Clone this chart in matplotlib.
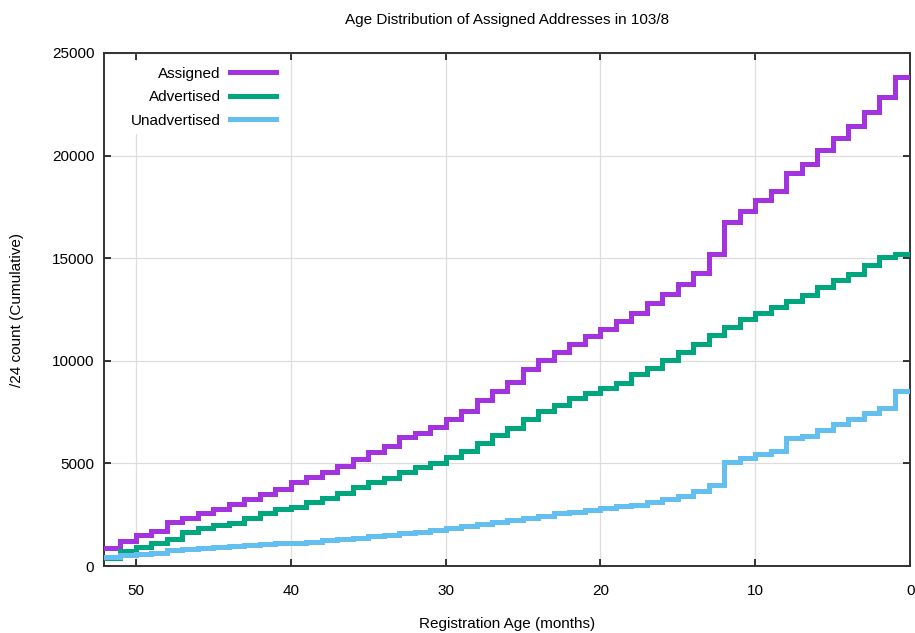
import matplotlib
matplotlib.use("Agg")
import matplotlib.pyplot as plt

plt.rcParams['font.family'] = ['Liberation Sans', 'DejaVu Sans']

# registration age in months, oldest first (x axis runs 52 -> 0)
months = list(range(52, -1, -1))

# cumulative /24 counts, one value per month interval [52,51] ... [1,0]
assigned = [862, 1218, 1510, 1721, 2128, 2323, 2567, 2778, 3030, 3265,
            3509, 3752, 4077, 4320, 4564, 4856, 5214, 5540, 5864, 6270,
            6497, 6757, 7163, 7569, 8089, 8543, 8981, 9585, 10023, 10413,
            10803, 11193, 11549, 11939, 12350, 12800, 13239, 13742, 14261, 15189,
            16749, 17315, 17835, 18274, 19136, 19589, 20272, 20873, 21441, 22110,
            22841, 23815]
advertised = [373, 731, 909, 1137, 1316, 1640, 1835, 1990, 2079, 2355,
              2567, 2762, 2892, 3119, 3297, 3557, 3834, 4090, 4272, 4580,
              4809, 5035, 5295, 5620, 6010, 6398, 6720, 7163, 7553, 7846,
              8171, 8446, 8657, 8933, 9350, 9664, 10038, 10445, 10818, 11257,
              11662, 12036, 12344, 12637, 12914, 13206, 13612, 13937, 14214, 14668,
              15074, 15205]
unadvertised = [422, 520, 585, 650, 780, 845, 893, 942, 985, 1007,
                1056, 1104, 1137, 1185, 1250, 1315, 1380, 1445, 1494, 1591,
                1672, 1754, 1835, 1949, 2047, 2160, 2220, 2323, 2453, 2567,
                2648, 2729, 2810, 2924, 2980, 3135, 3265, 3428, 3672, 3947,
                5052, 5246, 5458, 5620, 6222, 6352, 6628, 6905, 7163, 7440,
                7716, 8528]

series = [("Assigned", assigned, "#a333de"),
          ("Advertised", advertised, "#00a67e"),
          ("Unadvertised", unadvertised, "#63bff0")]

fig = plt.figure(figsize=(9.15, 6.33), dpi=100)
ax = fig.add_axes([0.1137, 0.1058, 0.881, 0.8105])

for name, vals, col in series:
    ax.step(months, vals + [vals[-1]], where='post', color=col, lw=3.6,
            label=name, solid_joinstyle='miter', zorder=3)

ax.set_xlim(52.05, 0)
ax.set_ylim(0, 25000)
ax.set_xticks([50, 40, 30, 20, 10, 0])
ax.set_yticks([0, 5000, 10000, 15000, 20000, 25000])
ax.grid(True, color='#dddddd', lw=0.9, zorder=0)
ax.tick_params(direction='in', length=5, width=1.1, top=True, right=True,
               labelsize=11, colors='black')
ax.tick_params(axis='x', pad=13)
ax.tick_params(axis='y', pad=7)
for s in ax.spines.values():
    s.set_linewidth(1.4)
    s.set_color('#333333')

ax.set_title("Age Distribution of Assigned Addresses in 103/8", fontsize=11, pad=21)
ax.set_xlabel("Registration Age (months)", fontsize=11, labelpad=13.5)
ax.set_ylabel("/24 count (Cumulative)", fontsize=11, labelpad=20)

leg = ax.legend(loc='upper right', bbox_to_anchor=(0.23, 1.0), markerfirst=False,
                fontsize=11, handlelength=3.0, handletextpad=0.6,
                labelspacing=0.62, borderaxespad=0.5, fancybox=False,
                framealpha=1.0, edgecolor='none', facecolor='white')

plt.savefig("out.png", dpi=100)
